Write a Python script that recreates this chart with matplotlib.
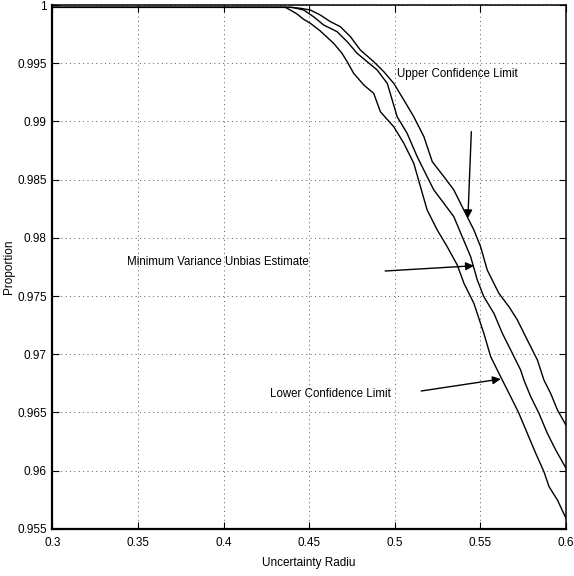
import matplotlib
matplotlib.use("Agg")
import matplotlib.pyplot as plt

plt.rcParams['font.family'] = ['Liberation Sans', 'DejaVu Sans']

# Upper confidence limit
upper_x = [0.3000, 0.4390, 0.4449, 0.4507, 0.4565, 0.4624, 0.4682, 0.4741, 0.4799, 0.4877,
           0.4936, 0.4994, 0.5053, 0.5111, 0.5170, 0.5219, 0.5287, 0.5345, 0.5384, 0.5423,
           0.5462, 0.5501, 0.5540, 0.5608, 0.5667, 0.5716, 0.5774, 0.5833, 0.5871, 0.5910,
           0.5950, 0.6000]
upper_y = [0.99980, 0.99980, 0.99972, 0.99957, 0.99914, 0.99857, 0.99814, 0.99728, 0.99613, 0.99513,
           0.99427, 0.99327, 0.99184, 0.99040, 0.98869, 0.98654, 0.98525, 0.98411, 0.98296, 0.98181,
           0.98067, 0.97924, 0.97723, 0.97523, 0.97408, 0.97294, 0.97122, 0.96950, 0.96778, 0.96664,
           0.96521, 0.96390]

# Minimum variance unbiased estimate
mid_x = [0.3000, 0.4402, 0.4468, 0.4526, 0.4585, 0.4663, 0.4722, 0.4780, 0.4839, 0.4897,
         0.4956, 0.4985, 0.5014, 0.5072, 0.5131, 0.5189, 0.5228, 0.5287, 0.5345, 0.5394,
         0.5443, 0.5482, 0.5520, 0.5579, 0.5628, 0.5677, 0.5735, 0.5754, 0.5794, 0.5842,
         0.5891, 0.5940, 0.6000]
mid_y = [0.99980, 0.99980, 0.99957, 0.99899, 0.99828, 0.99771, 0.99685, 0.99585, 0.99513, 0.99442,
         0.99327, 0.99184, 0.99040, 0.98898, 0.98697, 0.98525, 0.98411, 0.98296, 0.98181, 0.98009,
         0.97838, 0.97637, 0.97494, 0.97351, 0.97180, 0.97036, 0.96864, 0.96778, 0.96635, 0.96492,
         0.96320, 0.96177, 0.96020]

# Lower confidence limit
lower_x = [0.3000, 0.4361, 0.4390, 0.4429, 0.4468, 0.4507, 0.4565, 0.4643, 0.4692, 0.4722,
           0.4760, 0.4819, 0.4877, 0.4916, 0.4994, 0.5053, 0.5111, 0.5150, 0.5189, 0.5248,
           0.5306, 0.5365, 0.5404, 0.5462, 0.5520, 0.5560, 0.5618, 0.5677, 0.5725, 0.5774,
           0.5823, 0.5871, 0.5901, 0.5950, 0.6000]
lower_y = [0.99980, 0.99980, 0.99957, 0.99923, 0.99877, 0.99843, 0.99777, 0.99671, 0.99585, 0.99513,
           0.99413, 0.99313, 0.99241, 0.99083, 0.98954, 0.98812, 0.98640, 0.98439, 0.98239, 0.98067,
           0.97924, 0.97766, 0.97609, 0.97437, 0.97180, 0.96979, 0.96807, 0.96635, 0.96492, 0.96320,
           0.96149, 0.95991, 0.95862, 0.95747, 0.95590]

x_ticks = [0.3, 0.35, 0.4, 0.45, 0.5, 0.55, 0.6]
x_tick_labels = ['0.3', '0.35', '0.4', '0.45', '0.5', '0.55', '0.6']
y_ticks = [0.955, 0.96, 0.965, 0.97, 0.975, 0.98, 0.985, 0.99, 0.995, 1.0]
y_tick_labels = ['0.955', '0.96', '0.965', '0.97', '0.975', '0.98', '0.985', '0.99', '0.995', '1']

# annotations: (text, text_xy, arrow_start, arrow_end)
annotations = [
    ("Upper Confidence Limit", (0.5014, 0.99407), (0.5447, 0.98912), (0.5427, 0.98169)),
    ("Minimum Variance Unbias Estimate", (0.3439, 0.97795), (0.4944, 0.97715), (0.5462, 0.97760)),
    ("Lower Confidence Limit", (0.4273, 0.96655), (0.5154, 0.96684), (0.5619, 0.96787)),
]

fig = plt.figure(figsize=(5.74, 5.76), dpi=100)
ax = fig.add_axes([0.0911, 0.0819, 0.8950, 0.9094])

ax.plot(upper_x, upper_y, color='black', lw=1.0)
ax.plot(mid_x, mid_y, color='black', lw=1.0)
ax.plot(lower_x, lower_y, color='black', lw=1.0)

ax.set_xlim(0.3, 0.6)
ax.set_ylim(0.955, 1.0)
ax.set_xticks(x_ticks)
ax.set_xticklabels(x_tick_labels)
ax.set_yticks(y_ticks)
ax.set_yticklabels(y_tick_labels)
ax.tick_params(direction='in', length=5, width=0.8, top=True, right=True,
               labelsize=8.5, colors='black')
ax.tick_params(axis='x', pad=6)
ax.tick_params(axis='y', pad=4)
ax.grid(True, linestyle=(0, (1, 3.5)), color='0.35', linewidth=0.7)

for side in ['left', 'bottom']:
    ax.spines[side].set_linewidth(1.6)
for side in ['top', 'right']:
    ax.spines[side].set_linewidth(1.1)

for text, txy, a0, a1 in annotations:
    ax.text(txy[0], txy[1], text, fontsize=8.3, ha='left', va='center')
    ax.annotate('', xy=a1, xytext=a0,
                arrowprops=dict(arrowstyle='-|>', color='black', lw=1.0,
                                mutation_scale=12, shrinkA=0, shrinkB=0))

ax.set_xlabel('Uncertainty Radiu', fontsize=8.5, labelpad=6)
ax.set_ylabel('Proportion', fontsize=8.5)
ax.yaxis.set_label_coords(-0.073, 0.5)

fig.savefig('out.png', dpi=100)
